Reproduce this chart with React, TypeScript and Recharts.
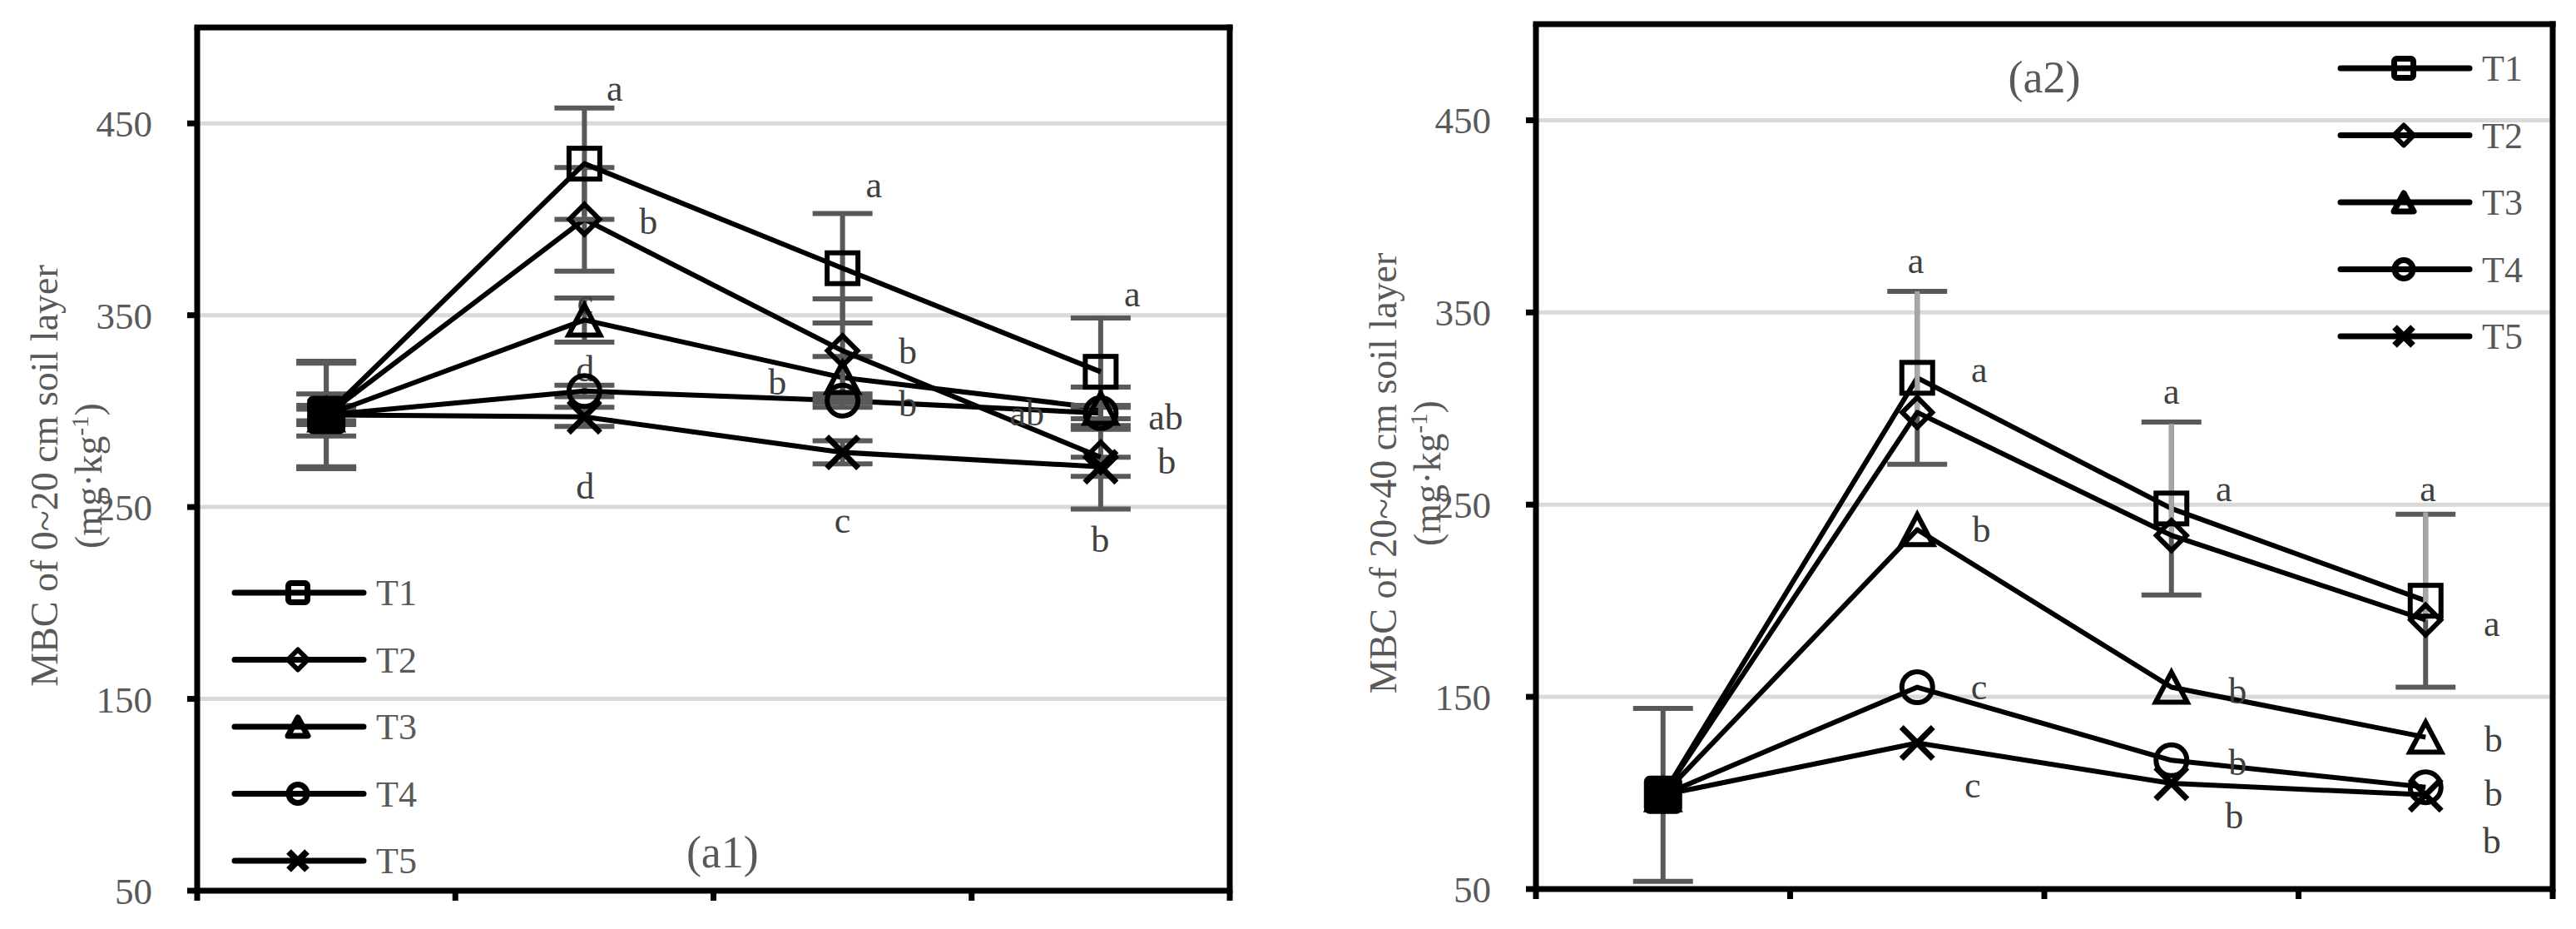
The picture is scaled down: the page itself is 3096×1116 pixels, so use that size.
import React from 'react';
import {
  ComposedChart,
  Line,
  XAxis,
  YAxis,
  CartesianGrid,
  ErrorBar,
  ReferenceLine,
  Scatter,
  Legend,
} from 'recharts';

// ---------- data ----------
const stageX = [0.5, 1.5, 2.5, 3.5];
const xTicks = [0, 1, 2, 3, 4];
const yTicks = [50, 150, 250, 350, 450];
const seriesNames = ['T1', 'T2', 'T3', 'T4', 'T5'];

// 0~20 cm soil layer
const topT1 = [298, 429, 374.5, 320.5];
const topT2 = [298, 400, 331.5, 276];
const topT3 = [298, 347.5, 317.5, 301.5];
const topT4 = [298, 310.5, 305.5, 299];
const topT5 = [298, 297, 278.5, 271];
const topErrT1 = [28, 29, 28.5, 28];
const topErrT2 = [27, 27, 27, 27];
const topErrT3 = [11, 11.5, 11, 11];
const topErrT4 = [3, 3, 3.5, 3];
const topErrT5 = [5, 5, 6, 5];

// 20~40 cm soil layer
const subT1 = [99, 316, 248, 200];
const subT2 = [99, 298, 234, 190];
const subT3 = [99, 237, 155, 129];
const subT4 = [99, 155, 117, 103];
const subT5 = [99, 126, 105, 99];
const subErrT1 = [45, 45, 45, 45];
const subErrT2 = [[0, 0], [0, 63], [0, 58], [0, 56]];

const topLetters = [
  { x: 1.617, y: 466, t: 'a' },
  { x: 1.748, y: 399, t: 'b' },
  { x: 1.503, y: 355, t: 'c' },
  { x: 1.503, y: 322, t: 'd' },
  { x: 1.503, y: 261, t: 'd' },
  { x: 2.621, y: 416, t: 'a' },
  { x: 2.753, y: 331, t: 'b' },
  { x: 2.247, y: 315, t: 'b' },
  { x: 2.753, y: 304, t: 'b' },
  { x: 2.5, y: 241, t: 'c' },
  { x: 3.622, y: 359, t: 'a' },
  { x: 3.214, y: 299, t: 'ab' },
  { x: 3.752, y: 297, t: 'ab' },
  { x: 3.756, y: 274, t: 'b' },
  { x: 3.498, y: 233, t: 'b' },
];
const subLetters = [
  { x: 1.494, y: 375, t: 'a' },
  { x: 1.744, y: 318, t: 'a' },
  { x: 2.5, y: 307, t: 'a' },
  { x: 2.706, y: 256, t: 'a' },
  { x: 3.509, y: 256, t: 'a' },
  { x: 1.753, y: 237, t: 'b' },
  { x: 3.76, y: 186, t: 'a' },
  { x: 2.76, y: 153, t: 'b' },
  { x: 1.743, y: 153, t: 'c' },
  { x: 3.767, y: 128, t: 'b' },
  { x: 2.76, y: 116, t: 'b' },
  { x: 1.718, y: 102, t: 'c' },
  { x: 3.767, y: 100, t: 'b' },
  { x: 2.747, y: 88, t: 'b' },
  { x: 3.76, y: 75, t: 'b' },
];
const topPanel = [{ x: 2.035, y: 68, t: '(a1)' }];
const subPanel = [{ x: 2.0, y: 470, t: '(a2)' }];

const topTitle = 'MBC of 0~20 cm soil layer';
const subTitle = 'MBC of 20~40 cm soil layer';

// ---------- build rows ----------
const topRows = stageX.map((x, i) => ({
  x,
  T1: topT1[i], T2: topT2[i], T3: topT3[i], T4: topT4[i], T5: topT5[i],
  T1e: topErrT1[i], T2e: topErrT2[i], T3e: topErrT3[i], T4e: topErrT4[i], T5e: topErrT5[i],
}));
const subRows = stageX.map((x, i) => ({
  x,
  T1: subT1[i], T2: subT2[i], T3: subT3[i], T4: subT4[i], T5: subT5[i],
  T1e: subErrT1[i], T2e: subErrT2[i],
}));

// ---------- styles ----------
const FONT = "'Times New Roman', 'Liberation Serif', serif";
const H = 1116;
const GRAY = '#595959';
const shapes: Record<string, string> = { T1: 'square', T2: 'diamond', T3: 'triangle', T4: 'circle', T5: 'x' };

function Marker({ shape, cx, cy, big, filled }: any) {
  const sw = big ? 6 : 7;
  const common = { stroke: '#000', strokeWidth: sw, fill: filled ? '#000' : 'none' };
  if (shape === 'square') {
    const s = big ? (filled ? 40 : 37) : 23;
    return <rect x={cx - s / 2} y={cy - s / 2} width={s} height={s} rx={filled ? 4 : big ? 0 : 3} {...common} />;
  }
  if (shape === 'diamond') {
    const h = big ? 18 : 12;
    return <polygon points={`${cx},${cy - h} ${cx + h},${cy} ${cx},${cy + h} ${cx - h},${cy}`} {...common} strokeWidth={6} strokeLinejoin={big ? 'miter' : 'round'} />;
  }
  if (shape === 'triangle') {
    const a = big ? 18 : 11;
    const b = big ? 19 : 12;
    return <polygon points={`${cx},${cy - a} ${cx + b},${cy + a} ${cx - b},${cy + a}`} {...common} strokeLinejoin={big ? 'miter' : 'round'} />;
  }
  if (shape === 'circle') {
    return <circle cx={cx} cy={cy} r={big ? 18.5 : 11} {...common} />;
  }
  const d = big ? 19 : 11;
  return (
    <path
      d={`M${cx - d},${cy - d}L${cx + d},${cy + d}M${cx - d},${cy + d}L${cx + d},${cy - d}`}
      stroke="#000"
      strokeWidth={big ? 7 : 8}
      fill="none"
    />
  );
}

const makeDot = (name: string) => (props: any) => {
  const { cx, cy, index } = props;
  if (cx == null || cy == null) return <g key={`${name}-${index}`} />;
  return (
    <g key={`${name}-${index}`}>
      <Marker shape={shapes[name]} cx={cx} cy={cy} big filled={name === 'T1' && index === 0} />
    </g>
  );
};

const letterShape = (props: any) => {
  const { cx, cy, payload } = props;
  const t = payload.t as string;
  const dy = /[bd]/.test(t) ? 15 : 10;
  return (
    <text x={cx} y={cy} dy={dy} textAnchor="middle" fontSize={44} fontFamily={FONT} fill="#404040">
      {t}
    </text>
  );
};

const panelShape = (props: any) => {
  const { cx, cy, payload } = props;
  return (
    <text x={cx} y={cy} dy={13} textAnchor="middle" fontSize={54} fontFamily={FONT} fill={GRAY}>
      {payload.t}
    </text>
  );
};

const legendContent = (props: any) => {
  const payload = props && props.payload ? props.payload : [];
  const names = seriesNames.filter(
    (n) => payload.length === 0 || payload.some((p: any) => p.value === n || p.dataKey === n)
  );
  return (
    <svg width={260} height={420} style={{ display: 'block' }}>
      {names.map((n, i) => {
        const y = 52 + i * 80.5;
        return (
          <g key={n}>
            <line x1={12} x2={167} y1={y} y2={y} stroke="#000" strokeWidth={7} strokeLinecap="round" />
            <Marker shape={shapes[n]} cx={88} cy={y} big={false} />
            <text x={182} y={y} dy={15} fontSize={44} fontFamily={FONT} fill={GRAY}>
              {n}
            </text>
          </g>
        );
      })}
    </svg>
  );
};

function YTitle({ plotLeft, centerY, text }: any) {
  const x1 = plotLeft - 168;
  const x2 = plotLeft - 115;
  return (
    <g fontFamily={FONT} fill={GRAY} fontSize={46}>
      <text x={x1} y={centerY} textAnchor="middle" transform={`rotate(-90, ${x1}, ${centerY})`}>
        {text}
      </text>
      <text x={x2} y={centerY} textAnchor="middle" transform={`rotate(-90, ${x2}, ${centerY})`}>
        (mg·kg
        <tspan dy={-16} fontSize={29}>-1</tspan>
        <tspan dy={16}>)</tspan>
      </text>
    </g>
  );
}

function Panel({ cfg, rows, order, errs, letters, panel, title, legendPos }: any) {
  const margin = {
    top: cfg.plotTop,
    left: cfg.plotLeft - 100,
    right: cfg.width - cfg.plotRight,
    bottom: H - cfg.plotBottom - 20,
  };
  const axisStyle = { stroke: '#000', strokeWidth: 7 };
  return (
    <div style={{ position: 'absolute', left: cfg.left, top: 0, width: cfg.width, height: H }}>
      <ComposedChart width={cfg.width} height={H} data={rows} margin={margin}>
        <CartesianGrid vertical={false} stroke="#d9d9d9" strokeWidth={5} />
        <XAxis
          type="number"
          dataKey="x"
          domain={[0, 4]}
          ticks={xTicks}
          interval={0}
          height={20}
          tickSize={12}
          axisLine={axisStyle}
          tickLine={axisStyle}
          tickFormatter={() => ''}
          tick={{ fontSize: 1 }}
          allowDataOverflow
        />
        <YAxis
          type="number"
          domain={[50, 500]}
          ticks={yTicks}
          interval={0}
          width={100}
          tickSize={12}
          tickMargin={42}
          axisLine={axisStyle}
          tickLine={axisStyle}
          tick={{ fill: GRAY, fontSize: 45, fontFamily: FONT }}
          allowDataOverflow
        />
        <ReferenceLine y={500} stroke="#000" strokeWidth={7} strokeLinecap="square" />
        <ReferenceLine x={4} stroke="#000" strokeWidth={7} strokeLinecap="square" />
        {order.map((n: string) => (
          <Line
            key={n}
            name={n}
            type="linear"
            dataKey={n}
            stroke="#000"
            strokeWidth={6}
            strokeLinejoin="round"
            dot={makeDot(n)}
            activeDot={false}
            isAnimationActive={false}
          >
            {errs[n] ? (
              <ErrorBar
                dataKey={`${n}e`}
                direction="y"
                width={errs[n].width}
                strokeWidth={6}
                stroke={errs[n].color}
              />
            ) : null}
          </Line>
        ))}
        <Scatter data={letters} dataKey="y" shape={letterShape} legendType="none" isAnimationActive={false} />
        <Scatter data={panel} dataKey="y" shape={panelShape} legendType="none" isAnimationActive={false} />
        <Legend
          layout="vertical"
          align="center"
          verticalAlign="middle"
          content={legendContent}
          wrapperStyle={{ position: 'absolute', left: legendPos.left, top: legendPos.top, width: 260, height: 420 }}
        />
      </ComposedChart>
      <svg
        width={cfg.width}
        height={H}
        style={{ position: 'absolute', left: 0, top: 0, pointerEvents: 'none' }}
      >
        <YTitle plotLeft={cfg.plotLeft} centerY={(cfg.plotTop + cfg.plotBottom) / 2 + 20} text={title} />
      </svg>
    </div>
  );
}

const LEFT = { left: 0, width: 1560, plotLeft: 237, plotRight: 1478, plotTop: 33, plotBottom: 1070 };
const RIGHT = { left: 1560, width: 1536, plotLeft: 286, plotRight: 1508, plotTop: 29, plotBottom: 1068 };

export default function App() {
  const topErrs = {
    T1: { width: 36, color: GRAY },
    T2: { width: 36, color: GRAY },
    T3: { width: 36, color: GRAY },
    T4: { width: 36, color: GRAY },
    T5: { width: 36, color: GRAY },
  };
  const subErrs = {
    T1: { width: 36, color: GRAY },
    T2: { width: 0, color: '#a6a6a6' },
  };
  return (
    <div style={{ position: 'absolute', left: 0, top: 0, width: 3096, height: H, background: '#fff' }}>
      <Panel
        cfg={LEFT}
        rows={topRows}
        order={['T5', 'T4', 'T3', 'T2', 'T1']}
        errs={topErrs}
        letters={topLetters}
        panel={topPanel}
        title={topTitle}
        legendPos={{ left: 270, top: 660 }}
      />
      <Panel
        cfg={RIGHT}
        rows={subRows}
        order={['T5', 'T4', 'T3', 'T1', 'T2']}
        errs={subErrs}
        letters={subLetters}
        panel={subPanel}
        title={subTitle}
        legendPos={{ left: 1241, top: 30 }}
      />
    </div>
  );
}
